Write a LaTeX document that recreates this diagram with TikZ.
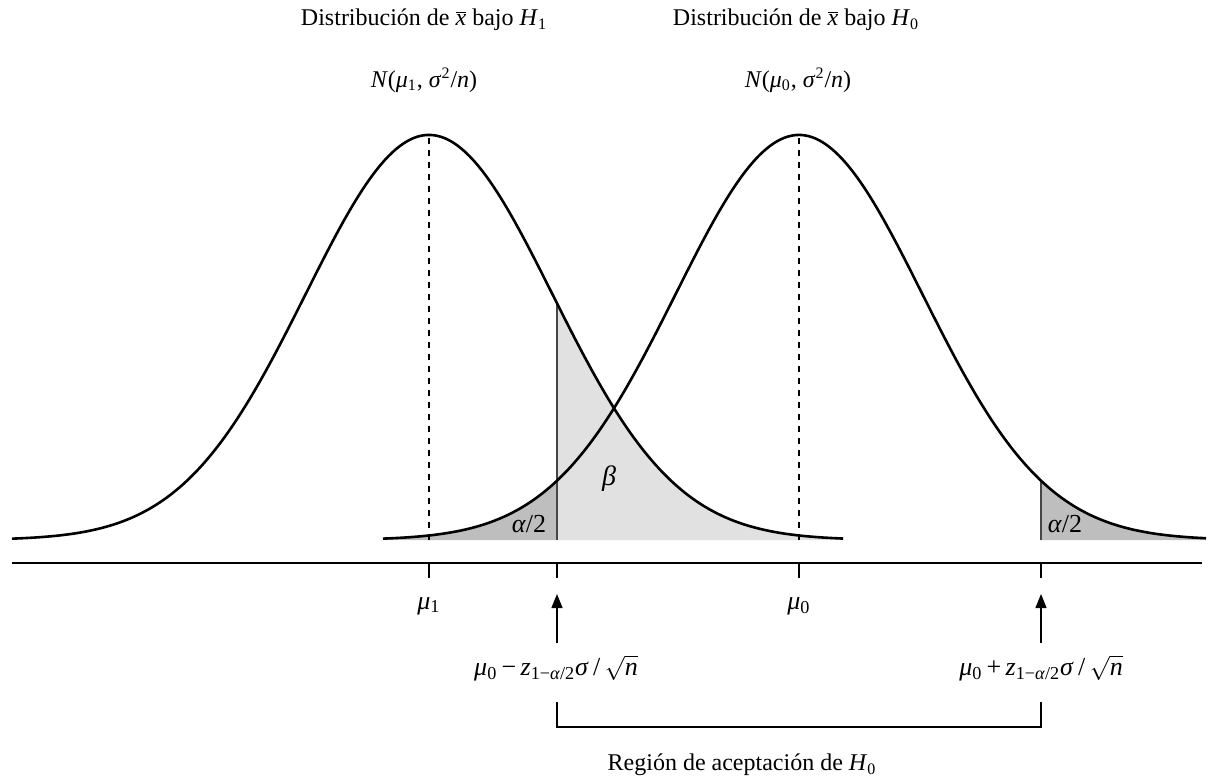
\documentclass[tikz,border=0pt]{standalone}
\usepackage{fontspec}
\setmainfont{Liberation Serif}
\usepackage{tikz}
\usetikzlibrary{arrows.meta, positioning}
\definecolor{betacolor}{RGB}{225,225,225}
\definecolor{alphacolor}{RGB}{190,190,190}
\definecolor{edgecolor}{RGB}{70,70,70}
\newcommand{\xbar}{\ensuremath{\overline{\mbox{\itshape x}}}}
\newcommand{\sqrtn}{\ensuremath{\sqrt{\mbox{\itshape n}}}}

\begin{document}
\begin{tikzpicture}[
    x=0.5pt, y=-0.5pt,
    font=\fontsize{12}{14}\selectfont,
    declare function={
        gone(\t)=540-405*exp(-((\t-429)/123.47)^2/2);
        gzero(\t)=540-405*exp(-((\t-799)/123.47)^2/2);
    },
    curve/.style={line width=1.3pt, samples=150, smooth},
    meanline/.style={dashed, line width=0.6pt},
    critline/.style={line width=0.6pt, draw=edgecolor},
    axisline/.style={line width=0.8pt},
    uparrow/.style={-{Triangle[length=7pt, width=5.5pt]}, line width=0.7pt},
    bracket/.style={line width=0.7pt},
    mathlabel/.style={font=\fontsize{13}{15}\selectfont}
]
\useasboundingbox (0,0) rectangle (1210,783);

%% SHADED AREAS %%
\fill[betacolor] (557,540) -- plot[domain=557:843, samples=100] (\x, {gone(\x)}) -- (843,540) -- cycle;
\fill[alphacolor] (383,540) -- plot[domain=383:557, samples=60] (\x, {gzero(\x)}) -- (557,540) -- cycle;
\fill[alphacolor] (1041,540) -- plot[domain=1041:1206, samples=60] (\x, {gzero(\x)}) -- (1206,540) -- cycle;

%% KEY POINTS %%
\coordinate (peakone) at (429,{gone(429)});
\coordinate (baseone) at (429,540);
\coordinate (peakzero) at (799,{gzero(799)});
\coordinate (basezero) at (799,540);
\coordinate (lowtop) at (557,{gone(557)});
\coordinate (lowbase) at (557,540);
\coordinate (hightop) at (1041,{gzero(1041)});
\coordinate (highbase) at (1041,540);

\draw[critline] (lowbase) -- (lowtop);
\draw[critline] (highbase) -- (hightop);
\draw[meanline] (baseone) -- (peakone);
\draw[meanline] (basezero) -- (peakzero);

%% CURVES %%
\draw[curve, domain=12:843] plot (\x, {gone(\x)});
\draw[curve, domain=383:1206] plot (\x, {gzero(\x)});

%% AXIS %%
\coordinate (axisleft) at (12,563);
\coordinate (axisright) at (1202,563);
\draw[axisline] (axisleft) -- (axisright);
\foreach \p in {429,557,799,1041}
    \draw[axisline] (\p,563) -- (\p,578);

%% LABELS IN THE PLOT %%
\node[mathlabel] (alphaleft) at (529,524) {\textit{α}/2};
\node[mathlabel] (alpharight) at (1065,524) {\textit{α}/2};
\node[mathlabel, font=\fontsize{14}{16}\selectfont] (beta) at (609,479) {\itshape β};

%% TITLES %%
\node (titleone) at (424,20) {Distribución de \xbar{} bajo \textit{H}\textsubscript{1}};
\node (titlezero) at (796,20) {Distribución de \xbar{} bajo \textit{H}\textsubscript{0}};
\node (normone) at (424,80) {\textit{N}(\textit{μ}\textsubscript{1}, \textit{σ}\textsuperscript{2}/\textit{n})};
\node (normzero) at (798,80) {\textit{N}(\textit{μ}\textsubscript{0}, \textit{σ}\textsuperscript{2}/\textit{n})};

%% AXIS LABELS %%
\node[mathlabel] (muone) at (429,606) {\textit{μ}\textsubscript{1}};
\node[mathlabel] (muzero) at (799,606) {\textit{μ}\textsubscript{0}};

\node[mathlabel] (critlow) at (556,668) {\textit{μ}\textsubscript{0}\,−\,\textit{z}\textsubscript{1−\textit{α}/2}\textit{σ}\,/\,\sqrtn};
\node[mathlabel] (crithigh) at (1041,668) {\textit{μ}\textsubscript{0}\,+\,\textit{z}\textsubscript{1−\textit{α}/2}\textit{σ}\,/\,\sqrtn};

\coordinate (lowtip) at (557,594);
\coordinate (hightip) at (1041,594);
\coordinate (lowfoot) at (557,643);
\coordinate (highfoot) at (1041,643);
\draw[uparrow] (lowfoot) -- (lowtip);
\draw[uparrow] (highfoot) -- (hightip);

%% ACCEPTANCE REGION %%
\coordinate (brlowtop) at (557,702);
\coordinate (brlowbot) at (557,727);
\coordinate (brhightop) at (1041,702);
\coordinate (brhighbot) at (1041,727);
\draw[bracket] (brlowtop) -- (brlowbot) -- (brhighbot) -- (brhightop);

\node (accept) at (742,765) {Región de aceptación de \textit{H}\textsubscript{0}};

\end{tikzpicture}
\end{document}
